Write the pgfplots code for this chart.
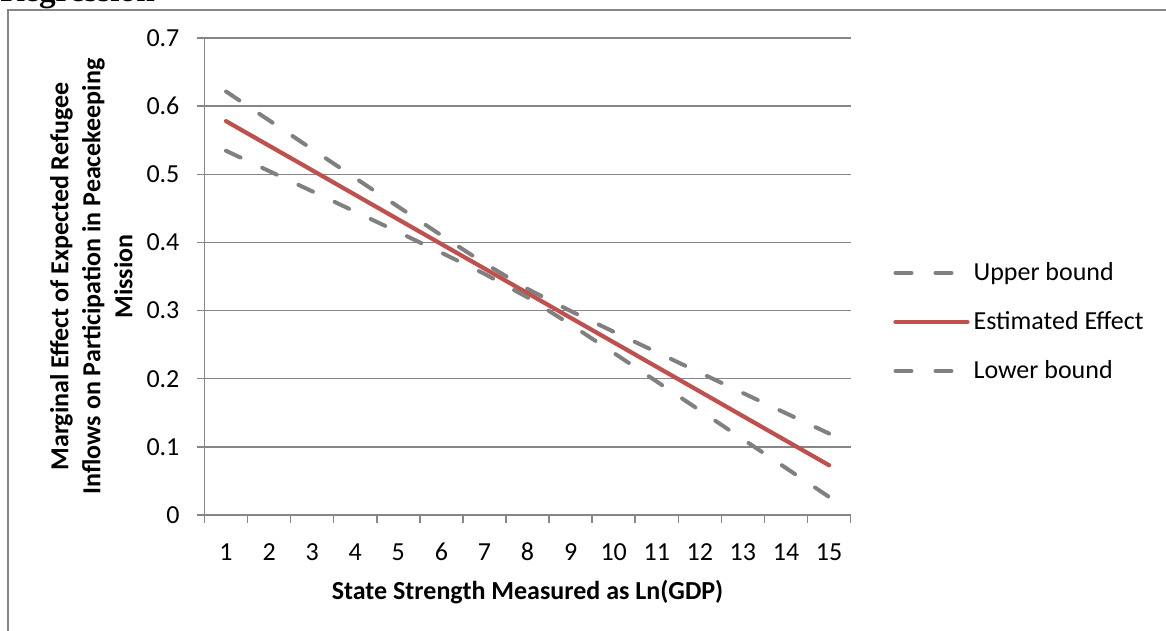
\documentclass[border=0pt]{standalone}
\usepackage{pgfplots}
\pgfplotsset{compat=1.18}
\usepackage{fontspec}
\setmainfont{Carlito}
\newfontfamily\serifb{Liberation Serif}
\definecolor{axgray}{HTML}{868686}
\definecolor{dashgray}{HTML}{808080}
\definecolor{estred}{HTML}{C0504D}
\pgfplotstableread{
x upper est lower
1  0.6215 0.5780 0.5345
2  0.5791 0.5419 0.5047
3  0.5368 0.5059 0.4750
4  0.4945 0.4698 0.4451
5  0.4523 0.4337 0.4151
6  0.4103 0.3976 0.3849
7  0.3693 0.3616 0.3539
8  0.3317 0.3255 0.3193
9  0.2993 0.2894 0.2795
10 0.2689 0.2534 0.2379
11 0.2388 0.2173 0.1958
12 0.2089 0.1812 0.1535
13 0.1790 0.1451 0.1112
14 0.1493 0.1091 0.0689
15 0.1195 0.0730 0.0265
}\datatable
\begin{document}
\fontsize{13}{16}\selectfont
\begin{tikzpicture}
\path[use as bounding box] (0,0) rectangle (583pt,315.5pt);
\clip (0,0) rectangle (583pt,315.5pt);
\node[anchor=base west, inner sep=0pt, font=\serifb\bfseries\fontsize{16.6}{18}\selectfont] at (0pt,314.5pt) {Regression};
\draw[axgray, line width=1pt] (4pt,-20pt) -- (4pt,310.5pt) -- (700pt,310.5pt);
\begin{axis}[
  at={(102.25pt,58pt)}, anchor=south west,
  scale only axis, width=323.05pt, height=238.5pt,
  xmin=0.5, xmax=15.5, ymin=0, ymax=0.7,
  axis lines*=left,
  axis line style={axgray, line width=0.75pt, -},
  xtick={1,...,15},
  minor xtick={0.5,1.5,...,15.5},
  ytick={0,0.1,...,0.7},
  yticklabels={0,0.1,0.2,0.3,0.4,0.5,0.6,0.7},
  tick align=outside,
  major tick length=4pt, minor tick length=4pt,
  every major x tick/.append style={draw=none},
  tick style={axgray, line width=0.75pt},
  ymajorgrids,
  major grid style={axgray, line width=0.75pt},
  /pgf/number format/assume math mode=true,
  tick label style={font=\fontsize{13}{16}\selectfont},
  xticklabel style={anchor=center, yshift=-14.5pt},
  yticklabel style={anchor=east, xshift=-4pt},
  xlabel={\bfseries State Strength Measured as Ln(GDP)},
  xlabel style={at={(axis description cs:0.5,-0.1614)}, anchor=center, font=\fontsize{13}{16}\selectfont},
  ylabel={Marginal Effect of Expected Refugee\\Inflows on Participation in Peacekeeping\\Mission},
  ylabel style={at={(axis description cs:-0.175,0.5)}, anchor=center, align=center, font=\bfseries\fontsize{13}{16}\selectfont},
  legend image code/.code={\draw[#1] (0pt,0pt) -- (36pt,0pt);},
  legend cell align=left,
  legend style={at={(axis description cs:1.0656,0.4046)}, anchor=west, draw=none, fill=none,
    font=\fontsize{13}{16}\selectfont, row sep=9.5pt, inner sep=0pt,
    nodes={inner sep=2pt}},
  clip=false,
]
\addplot[dashgray, line width=2pt, line cap=round, dash pattern=on 8pt off 12pt] table[x=x, y=upper] {\datatable};
\addlegendentry{Upper bound}
\addplot[estred, line width=2.1pt, line cap=round] table[x=x, y=est] {\datatable};
\addlegendentry{Estimated Effect}
\addplot[dashgray, line width=2pt, line cap=round, dash pattern=on 8pt off 12pt] table[x=x, y=lower] {\datatable};
\addlegendentry{Lower bound}
\end{axis}
\end{tikzpicture}
\end{document}
